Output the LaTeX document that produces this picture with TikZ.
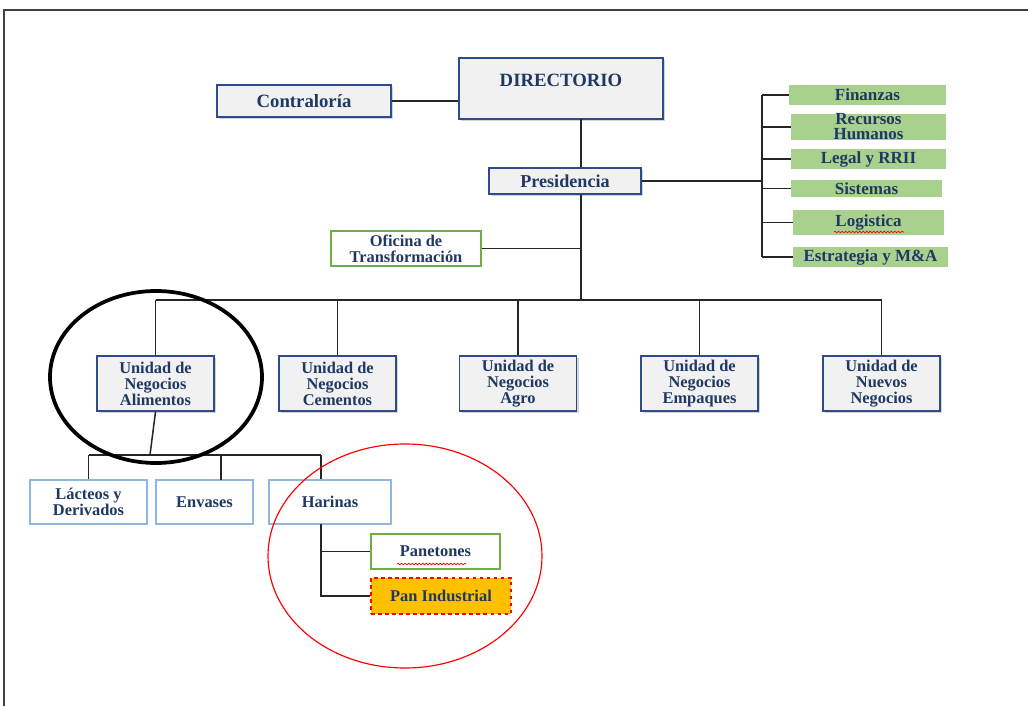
\documentclass[tikz,border=0pt]{standalone}
\usepackage{fontspec}
\setmainfont{Liberation Serif}
\usetikzlibrary{positioning,shadows,decorations.pathmorphing}

\definecolor{navy}{HTML}{1F3864}
\definecolor{boxblue}{HTML}{2F4B8C}
\definecolor{boxgray}{HTML}{F1F1F1}
\definecolor{leafgreen}{HTML}{A9D18E}
\definecolor{linegreen}{HTML}{70AD47}
\definecolor{lightblue}{HTML}{8FB8E0}
\definecolor{gold}{HTML}{FFC000}
\def\px{0.03cm}

\begin{document}
\begin{tikzpicture}[x=0.03cm, y=-0.03cm,
  graybox/.style={draw=boxblue, line width=1.4pt, fill=boxgray, drop shadow={shadow xshift=0.07cm, shadow yshift=-0.07cm, opacity=0.35, fill=gray}, text=navy, align=center, inner sep=0pt, font=\bfseries\fontsize{14}{13.6}\selectfont},
  greenbox/.style={fill=leafgreen, text=navy, align=center, inner sep=0pt, font=\bfseries\fontsize{14.5}{12.8}\selectfont},
  whitebox/.style={draw=#1, line width=1.1pt, fill=white, text=navy, align=center, inner sep=0pt, font=\bfseries\fontsize{14}{13.6}\selectfont},
  link/.style={draw=black!85, line width=1.3pt},
  squig/.style={red, line width=0.6pt, decorate, decoration={snake, segment length=3pt, amplitude=0.7pt}}]

\useasboundingbox (0,0) rectangle (1028,706);
\draw[line width=1.2pt, black!75] (4,706) -- (4,10) -- (1028,10);

%Nodes
\node[graybox, minimum width=204*\px, minimum height=61*\px, text height=11pt, text depth=14.6pt, font=\bfseries\fontsize{16}{16}\selectfont] (dir) at (561,88.5) {DIRECTORIO};
\node[graybox, minimum width=174*\px, minimum height=32*\px, font=\bfseries\fontsize{16}{16}\selectfont] (contra) at (304,101) {Contraloría};
\node[graybox, minimum width=152*\px, minimum height=26*\px, font=\bfseries\fontsize{15.5}{15.5}\selectfont] (pres) at (565,181) {Presidencia};

\node[greenbox, minimum width=157*\px, minimum height=20*\px] (fin) at (867.5,95) {Finanzas};
\node[greenbox, minimum width=155*\px, minimum height=20*\px] (rrhh) at (868.5,127) {Recursos\\Humanos};
\node[greenbox, minimum width=155*\px, minimum height=20*\px] (legal) at (868.5,159) {Legal y RRII};
\node[greenbox, minimum width=151*\px, minimum height=17*\px] (sist) at (866.5,188.5) {Sistemas};
\node[greenbox, minimum width=151*\px, minimum height=25*\px] (logi) at (868.5,222.5) {Logistica};
\node[greenbox, minimum width=155*\px, minimum height=20*\px] (estr) at (870.5,257) {Estrategia y M\&A};

\node[whitebox=linegreen, minimum width=150*\px, minimum height=35*\px] (ofi) at (406,248.5) {Oficina de\\Transformación};

\node[graybox, minimum width=117*\px, minimum height=55*\px] (ali) at (155.5,383.5) {Unidad de\\Negocios\\Alimentos};
\node[graybox, minimum width=117*\px, minimum height=55*\px] (cem) at (337.5,383.5) {Unidad de\\Negocios\\Cementos};
\node[graybox, minimum width=117*\px, minimum height=55*\px] (agro) at (518,383.5) {Unidad de\\Negocios\\Agro};
\node[graybox, minimum width=117*\px, minimum height=55*\px] (emp) at (699.5,383.5) {Unidad de\\Negocios\\Empaques};
\node[graybox, minimum width=117*\px, minimum height=55*\px] (nue) at (881.5,383.5) {Unidad de\\Nuevos\\Negocios};

\node[whitebox=lightblue, minimum width=117*\px, minimum height=44*\px] (lac) at (88.5,502) {Lácteos y\\Derivados};
\node[whitebox=lightblue, minimum width=97*\px, minimum height=44*\px] (env) at (204.5,502) {Envases};
\node[whitebox=lightblue, minimum width=122*\px, minimum height=44*\px] (har) at (330,502) {Harinas};

\node[whitebox=linegreen, minimum width=129*\px, minimum height=35*\px] (pane) at (435.5,551.5) {Panetones};
\node[whitebox=red, dashed, fill=gold, minimum width=140*\px, minimum height=36*\px] (pan) at (441,596) {Pan Industrial};

%Coordinates
\coordinate (trunk) at (581,119);
\coordinate (sidebus) at (762,184);
\coordinate (unitbus) at (581,300);
\coordinate (foodbus) at (150,455);
\coordinate (boxdrop) at (221,480);
\coordinate (flourdrop) at (321,524);

%line
\draw[link] (contra.east) -- (contra.east -| dir.west);
\draw[link] (trunk) -- (trunk |- pres.north);
\draw[link] (trunk |- pres.south) -- (unitbus);
\draw[link] (pres.east) -- (pres.east -| sidebus);
\draw[link] (sidebus |- fin) -- (sidebus |- estr);
\foreach \n in {fin, rrhh, legal, sist, logi, estr}
  \draw[link] (sidebus |- \n) -- (\n.west);
\draw[link] (ofi.east) -- (ofi.east -| trunk);

\draw[link] (unitbus -| ali.north) -- (unitbus -| nue.north);
\foreach \n in {ali, cem, agro, emp, nue}
  \draw[link] (unitbus -| \n.north) -- (\n.north);

\draw[link] (ali.south) -- (foodbus);
\draw[link] (foodbus -| lac.north) -- (foodbus -| flourdrop);
\draw[link] (foodbus -| lac.north) -- (lac.north);
\draw[link] (foodbus -| boxdrop) -- (boxdrop);
\draw[link] (foodbus -| flourdrop) -- (flourdrop |- har.north);

\draw[link] (flourdrop) -- (flourdrop |- pan.west) -- (pan.west);
\draw[link] (flourdrop |- pane.west) -- (pane.west);

%spell marks
\draw[squig] (834,232) -- (904,232);
\draw[squig] (397,564) -- (466,564);

%rings
\draw[line width=3.2pt] (156,377) ellipse [x radius=106*\px, y radius=86*\px];
\draw[red, line width=1pt] (405,556) ellipse [x radius=137*\px, y radius=112*\px];

\end{tikzpicture}
\end{document}
